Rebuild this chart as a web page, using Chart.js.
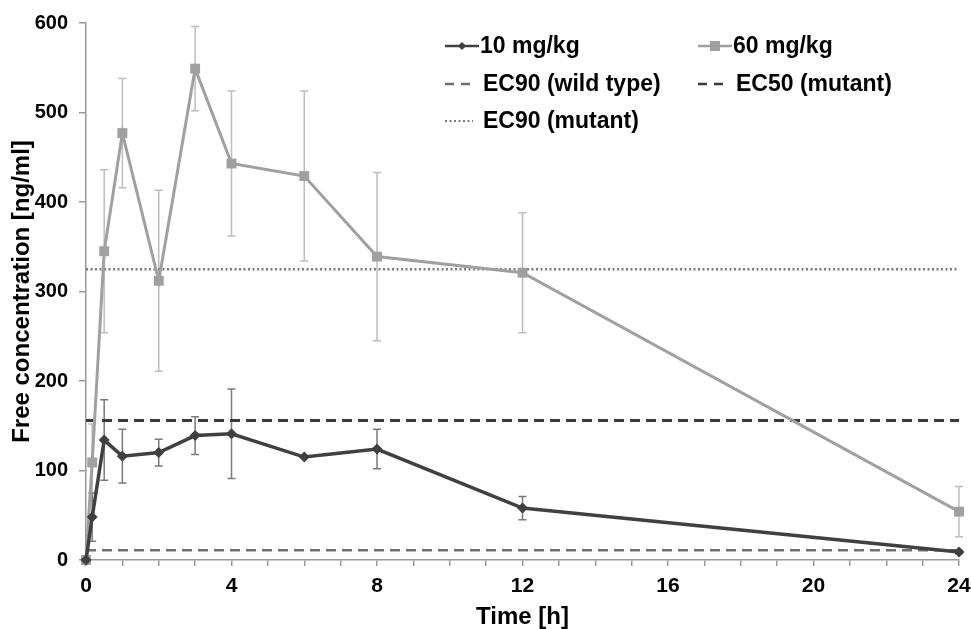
<!DOCTYPE html>
<html>
<head>
<meta charset="utf-8">
<script src="https://cdn.jsdelivr.net/npm/chart.js@4/dist/chart.umd.min.js"></script>
<style>
  html, body { margin: 0; padding: 0; background: #fff; }
  #wrap { width: 971px; height: 629px; }
</style>
</head>
<body>
<div id="wrap"><canvas id="myChart" width="971" height="629"></canvas></div>
<script>
const timesH = [0, 0.17, 0.5, 1, 2, 3, 4, 6, 8, 12, 24];
const dose10 = [0, 48, 134, 116, 120, 139, 141, 115, 124, 58, 9];
const dose10Err = [0, 27, 45, 30, 15, 21, 50, 0, 22, 13, 2];
const dose60 = [0, 109, 345, 477, 312, 549, 443, 429, 339, 321, 54];
const dose60Err = [0, 43, 91, 61, 101, 47, 81, 95, 94, 67, 28];

const ec90Wild = 11;
const ec50Mutant = 156;
const ec90Mutant = 325;

const FONT = "Arial, 'Liberation Sans', sans-serif";

function toPoints(xs, ys) {
  return xs.map((x, i) => ({ x: x, y: ys[i] }));
}
function hLine(v) {
  return [{ x: 0, y: v }, { x: 24, y: v }];
}

// error bars, drawn under the lines
const errorBars = {
  id: "errorBars",
  beforeDatasetsDraw(chart) {
    const { ctx, scales } = chart;
    const sets = [
      { vals: dose60, err: dose60Err, color: "#bdbdbd" },
      { vals: dose10, err: dose10Err, color: "#7a7a7a" },
    ];
    ctx.save();
    ctx.lineWidth = 1.5;
    sets.forEach((s) => {
      ctx.strokeStyle = s.color;
      timesH.forEach((t, i) => {
        if (!s.err[i]) return;
        const x = scales.x.getPixelForValue(t);
        const yTop = scales.y.getPixelForValue(s.vals[i] + s.err[i]);
        const yBot = scales.y.getPixelForValue(s.vals[i] - s.err[i]);
        ctx.beginPath();
        ctx.moveTo(x, yTop);
        ctx.lineTo(x, yBot);
        ctx.moveTo(x - 4, yTop);
        ctx.lineTo(x + 4, yTop);
        ctx.moveTo(x - 4, yBot);
        ctx.lineTo(x + 4, yBot);
        ctx.stroke();
      });
    });
    ctx.restore();
  },
};

// two-column legend in the top right corner
const boxLegend = {
  id: "boxLegend",
  afterDraw(chart) {
    const ctx = chart.ctx;
    const spots = [
      [445, 46], [698, 46],
      [445, 84], [698, 84],
      [445, 121],
    ];
    ctx.save();
    ctx.font = "bold 23px " + FONT;
    ctx.textBaseline = "middle";
    chart.data.datasets.forEach((ds, i) => {
      const [x, y] = spots[i];
      const dashed = !!ds.borderDash;
      const len = dashed ? 28 : 34;
      ctx.strokeStyle = ds.borderColor;
      ctx.lineWidth = ds.legendWidth;
      ctx.setLineDash(ds.legendDash || []);
      ctx.beginPath();
      ctx.moveTo(x, y);
      ctx.lineTo(x + len, y);
      ctx.stroke();
      ctx.setLineDash([]);
      if (ds.pointStyle === "rectRot") {
        ctx.fillStyle = ds.borderColor;
        ctx.beginPath();
        ctx.moveTo(x + 17, y - 4);
        ctx.lineTo(x + 21, y);
        ctx.lineTo(x + 17, y + 4);
        ctx.lineTo(x + 13, y);
        ctx.closePath();
        ctx.fill();
      } else if (ds.pointStyle === "rect") {
        ctx.fillStyle = ds.borderColor;
        ctx.fillRect(x + 12, y - 5, 10, 10);
      }
      ctx.fillStyle = "#000";
      ctx.fillText(ds.label, x + (dashed ? 38 : 35), y + 1);
    });
    ctx.restore();
  },
};

const ctx = document.getElementById("myChart");

const myChart = new Chart(ctx, {
  type: "line",
  data: {
    datasets: [
      {
        label: "10 mg/kg",
        data: toPoints(timesH, dose10),
        borderColor: "#404040",
        backgroundColor: "#404040",
        borderWidth: 3.5,
        legendWidth: 2.5,
        pointStyle: "rectRot",
        pointRadius: 5.5,
        pointBorderWidth: 0,
        order: 1,
      },
      {
        label: "60 mg/kg",
        data: toPoints(timesH, dose60),
        borderColor: "#a0a0a0",
        backgroundColor: "#a0a0a0",
        borderWidth: 3,
        legendWidth: 2.5,
        pointStyle: "rect",
        pointRadius: 7,
        pointBorderWidth: 0,
        order: 2,
      },
      {
        label: "EC90 (wild type)",
        data: hLine(ec90Wild),
        borderColor: "#707070",
        borderWidth: 2.5,
        legendWidth: 2.5,
        borderDash: [10, 6],
        legendDash: [9, 7],
        pointRadius: 0,
        order: 3,
      },
      {
        label: "EC50 (mutant)",
        data: hLine(ec50Mutant),
        borderColor: "#3a3a3a",
        borderWidth: 3,
        legendWidth: 2.5,
        borderDash: [10, 6],
        legendDash: [9, 7],
        pointRadius: 0,
        order: 3,
      },
      {
        label: "EC90 (mutant)",
        data: hLine(ec90Mutant),
        borderColor: "#7a7a7a",
        borderWidth: 2.5,
        legendWidth: 2,
        borderDash: [2, 2.5],
        legendDash: [2, 2.5],
        pointRadius: 0,
        order: 3,
      },
    ],
  },
  options: {
    responsive: false,
    animation: false,
    clip: false,
    layout: {
      padding: { top: 22, right: 0, left: 0, bottom: 0 },
    },
    plugins: {
      legend: { display: false },
      tooltip: { enabled: false },
    },
    scales: {
      x: {
        type: "linear",
        min: 0,
        max: 24,
        afterFit: (scale) => {
          scale.height = 69;
          scale.paddingRight = 12;
          scale.paddingLeft = 0;
        },
        border: { color: "#9a9a9a", width: 1.5 },
        grid: {
          drawOnChartArea: false,
          drawTicks: true,
          tickLength: 6,
          color: "#9a9a9a",
          lineWidth: 1.5,
        },
        ticks: {
          stepSize: 1,
          autoSkip: false,
          maxRotation: 0,
          color: "#000",
          padding: 8,
          font: { family: FONT, size: 21, weight: "bold" },
          callback: function (val) {
            return val % 4 === 0 ? String(val) : "";
          },
        },
        title: {
          display: true,
          text: "Time [h]",
          color: "#000",
          padding: { top: 0, bottom: 0 },
          font: { family: FONT, size: 24, weight: "bold", lineHeight: 1 },
        },
      },
      y: {
        min: 0,
        max: 600,
        afterFit: (scale) => { scale.width = 86; },
        border: { color: "#9a9a9a", width: 1.5 },
        grid: {
          drawOnChartArea: false,
          drawTicks: true,
          tickLength: 7,
          color: "#9a9a9a",
          lineWidth: 1.5,
        },
        ticks: {
          stepSize: 100,
          color: "#000",
          padding: 11,
          font: { family: FONT, size: 20, weight: "bold" },
        },
        title: {
          display: true,
          text: "Free concentration [ng/ml]",
          color: "#000",
          padding: { top: 8, bottom: 0 },
          font: { family: FONT, size: 24, weight: "bold" },
        },
      },
    },
  },
  plugins: [errorBars, boxLegend],
});
</script>
</body>
</html>
